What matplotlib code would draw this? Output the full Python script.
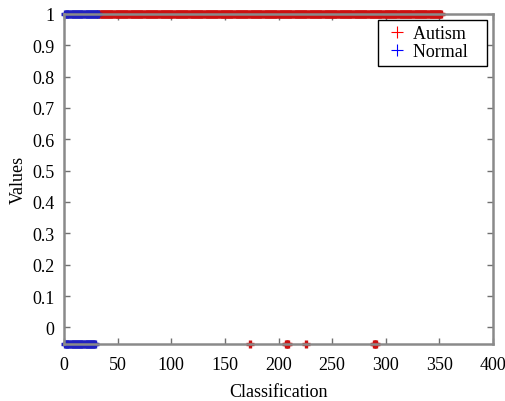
import numpy as np
import matplotlib
matplotlib.use("Agg")
import matplotlib.pyplot as plt

plt.rcParams['font.family'] = ['Liberation Serif', 'DejaVu Serif']
plt.rcParams['font.size'] = 13

# Sample indices and predicted class values
autism_top_x = np.arange(32, 353)          # autism samples classified as 1
autism_top_y = np.ones(len(autism_top_x))
autism_bottom_x = [173, 207, 208, 209, 226, 289, 290, 291]  # autism samples at 0
autism_bottom_y = [0, 0, 0, 0, 0, 0, 0, 0]
normal_top_x = np.arange(1, 33)
normal_top_y = np.ones(len(normal_top_x))
normal_bottom_x = np.arange(1, 30)
normal_bottom_y = np.zeros(len(normal_bottom_x))

xticks = [0, 50, 100, 150, 200, 250, 300, 350, 400]
ytick_values = [0, 0.1, 0.2, 0.3, 0.4, 0.5, 0.6, 0.7, 0.8, 0.9, 1]
ytick_labels = ['0', '0.1', '0.2', '0.3', '0.4', '0.5', '0.6', '0.7', '0.8', '0.9', '1']

fig = plt.figure(figsize=(5.05, 4.02), dpi=100)
ax = fig.add_axes([0.127, 0.142, 0.849, 0.821])

red = '#cc1010'
blue = '#2020c0'
kw = dict(linestyle='none', marker='+', markersize=5.5, markeredgewidth=2.4, clip_on=False)
ax.plot(autism_top_x, autism_top_y, color=red, **kw)
ax.plot(autism_bottom_x, autism_bottom_y, color=red, **kw)
ax.plot(normal_top_x, normal_top_y, color=blue, **kw)
ax.plot(normal_bottom_x, normal_bottom_y, color=blue, **kw)

# legend handles
h1, = ax.plot([], [], linestyle='none', marker='+', color='red', markersize=8, markeredgewidth=0.8, label='Autism   ')
h2, = ax.plot([], [], linestyle='none', marker='+', color='blue', markersize=8, markeredgewidth=0.8, label='Normal   ')
leg = ax.legend(handles=[h1, h2], loc='upper right', bbox_to_anchor=(0.986, 0.982),
                fancybox=False, framealpha=1, edgecolor='black', borderpad=0.3,
                handletextpad=0.15, labelspacing=0.05, handlelength=1.5, borderaxespad=0)
leg.get_frame().set_linewidth(1.0)

ax.set_xlim(0, 400)
ax.set_ylim(0, 1)
ax.set_xticks(xticks)
ax.set_xticklabels([str(t) for t in xticks])
ax.set_yticks([0.05 + 0.95 * v for v in ytick_values])
ax.set_yticklabels(ytick_labels)

for s in ax.spines.values():
    s.set_color('#8a8a8a')
    s.set_linewidth(1.8)

ax.tick_params(direction='in', length=4, width=1, color='#707070', top=True, right=True)
ax.tick_params(axis='x', pad=9)
ax.tick_params(axis='y', pad=7)
ax.set_xlabel('Classification', labelpad=7)
ax.set_ylabel('Values', labelpad=4)

fig.savefig('out.png', dpi=100)
